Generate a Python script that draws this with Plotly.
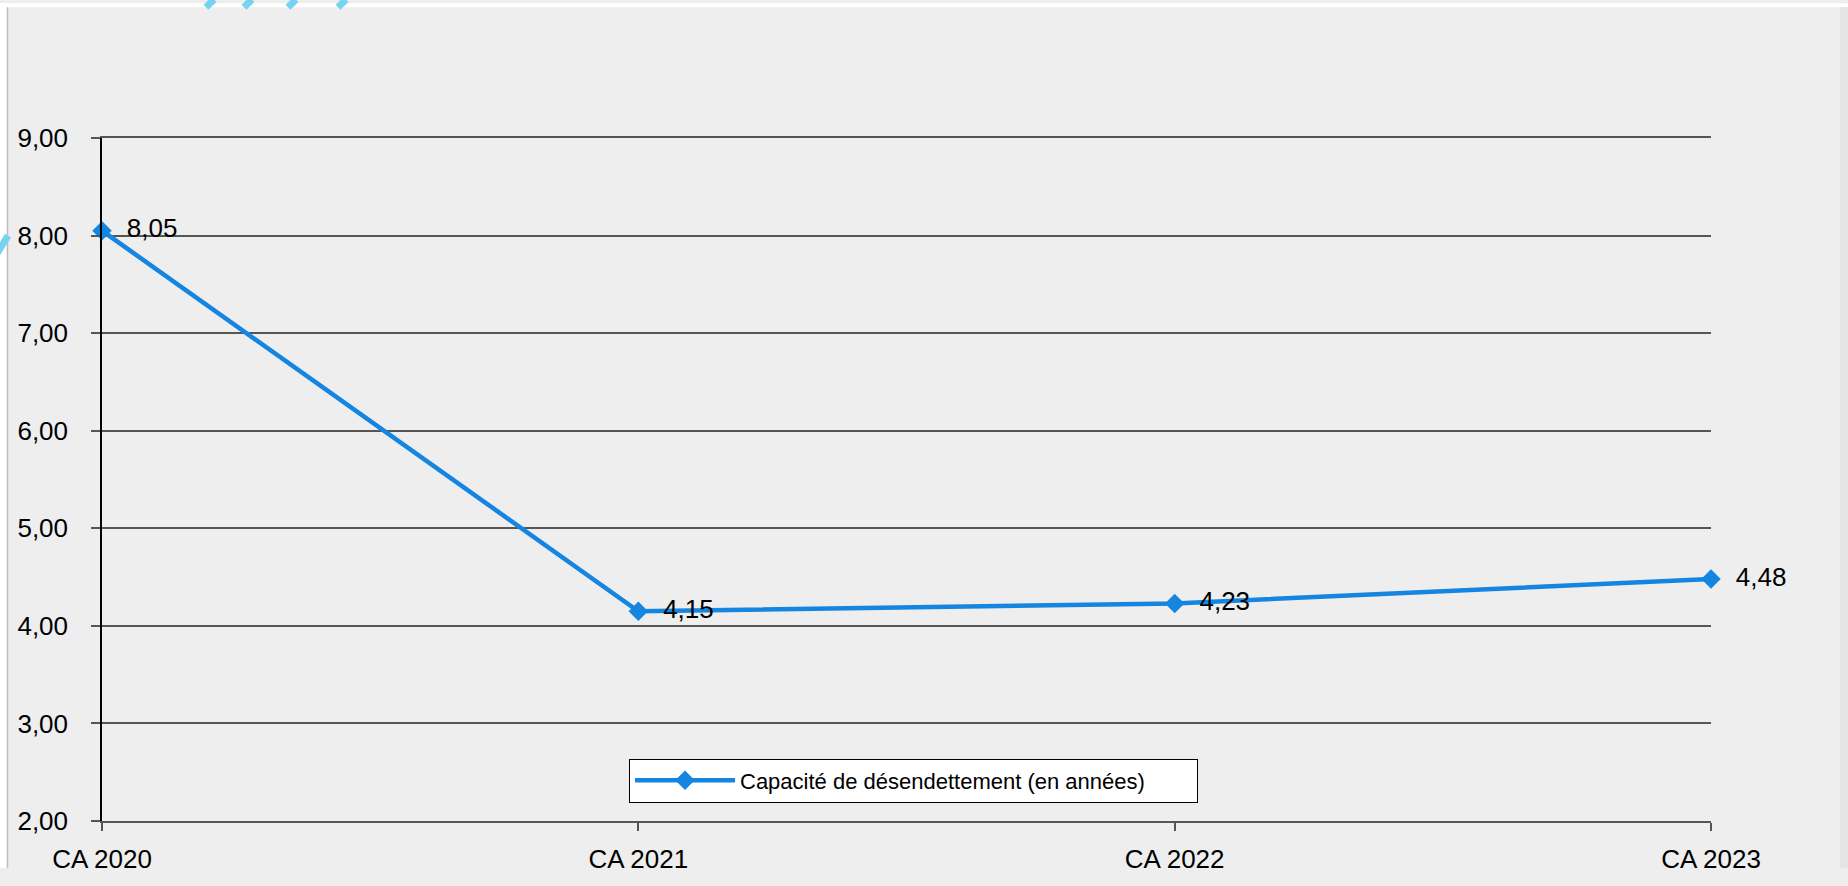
import plotly.graph_objects as go

# data
categories = ["CA 2020", "CA 2021", "CA 2022", "CA 2023"]
capacite = [8.05, 4.15, 4.23, 4.48]
series_name = "Capacité de désendettement (en années)"
y_ticks = [2, 3, 4, 5, 6, 7, 8, 9]

W, H = 1848, 886
L, R, T, B = 102, 137, 138, 48
PW = W - L - R


def px_x(p):
    # pixel -> paper x
    return (p - L) / PW


def px_y(p):
    return (H - B - p) / (H - T - B)


FONT = "Arial, Liberation Sans, sans-serif"
BLUE = "#1485E0"
GRID = "#555555"

fig = go.Figure()
fig.add_trace(go.Scatter(
    x=categories, y=capacite, name=series_name,
    mode="lines+markers+text",
    line=dict(color=BLUE, width=4.5),
    marker=dict(symbol="diamond", size=15, color=BLUE),
    texttemplate="  %{y:.2f}", textposition="middle right",
    textfont=dict(family=FONT, size=26, color="black"),
    cliponaxis=False,
))

shapes = [
    # slide panel edges
    dict(type="rect", xref="paper", yref="paper", layer="below",
         x0=px_x(0), x1=px_x(W), y0=px_y(0), y1=px_y(4),
         fillcolor="white", line_width=0),
    dict(type="rect", xref="paper", yref="paper", layer="below",
         x0=px_x(0), x1=px_x(7), y0=px_y(0), y1=px_y(H),
         fillcolor="white", line_width=0),
    dict(type="line", xref="paper", yref="paper", layer="below",
         x0=px_x(7.5), x1=px_x(7.5), y0=px_y(4), y1=px_y(H),
         line=dict(color="#BBBBBB", width=1.5)),
    dict(type="rect", xref="paper", yref="paper", layer="below",
         x0=px_x(1840), x1=px_x(W), y0=px_y(4), y1=px_y(H),
         fillcolor="#E4E4E4", line_width=0),
]
# light blue stripes of the slide background
for sx in [206, 244, 288, 338]:
    shapes.append(dict(type="line", xref="paper", yref="paper", layer="below",
                       x0=px_x(sx), x1=px_x(sx + 8), y0=px_y(4), y1=px_y(-4),
                       line=dict(color="#78D2F2", width=7)))
shapes.append(dict(type="line", xref="paper", yref="paper", layer="below",
                   x0=px_x(-4), x1=px_x(8), y0=px_y(258), y1=px_y(238),
                   line=dict(color="#78D2F2", width=7)))

fig.update_layout(
    width=W, height=H,
    margin=dict(l=L, r=R, t=T, b=B),
    paper_bgcolor="#EEEEEE", plot_bgcolor="#EEEEEE",
    font=dict(family=FONT, size=26, color="black"),
    separators=", ",
    showlegend=True,
    legend=dict(
        orientation="h", x=px_x(629), y=px_y(774),
        xanchor="left", yanchor="top",
        bgcolor="white", bordercolor="black", borderwidth=1,
        font=dict(family=FONT, size=22, color="black"),
        itemwidth=100, entrywidth=452,
    ),
    shapes=shapes,
)
fig.update_xaxes(
    type="category", range=[0, 3], showgrid=False,
    showline=True, linecolor=GRID, linewidth=1.5, mirror=True,
    ticks="outside", ticklen=8, tickcolor=GRID, tickwidth=1.5,
    ticklabelstandoff=6,
)
fig.update_yaxes(
    range=[2, 9], tickvals=y_ticks, tickformat=".2f",
    showgrid=True, gridcolor=GRID, gridwidth=1.5,
    showline=True, linecolor="black", linewidth=1.5,
    ticks="outside", ticklen=9, tickcolor=GRID, tickwidth=1.5,
    ticklabelstandoff=18, zeroline=False,
)

fig.write_html("out.html", config={"displayModeBar": False},
               post_script="document.body.style.margin='0';document.body.style.overflow='hidden';")
